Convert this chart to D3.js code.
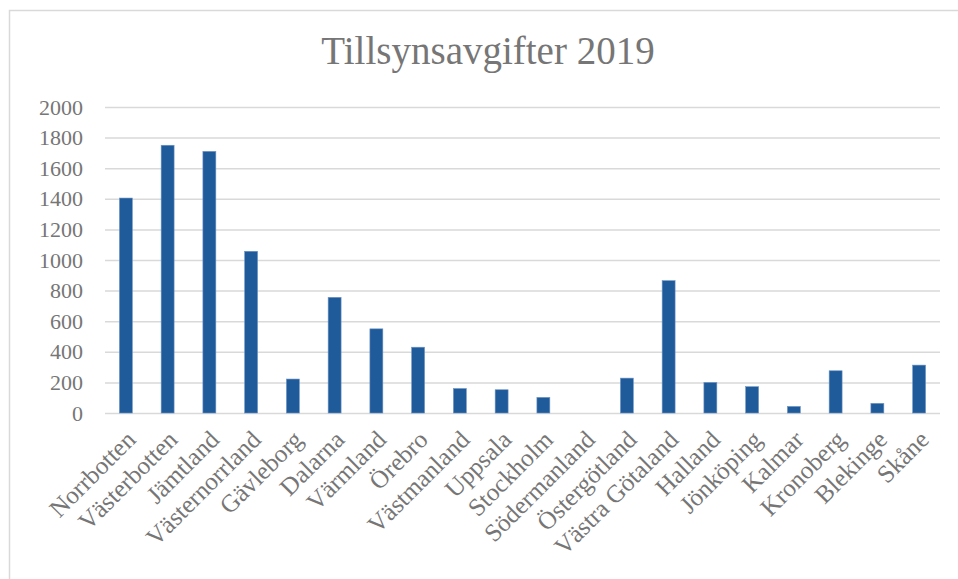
<!DOCTYPE html>
<html>
<head>
<meta charset="utf-8">
<script src="https://cdn.jsdelivr.net/npm/d3@7"></script>
<style>
  body { margin: 0; background: #fff; }
  text { font-family: "Liberation Serif", serif; fill: #767676; }
</style>
</head>
<body>
<svg id="chart" width="958" height="579"></svg>
<script>
var lan = ['Norrbotten', 'Västerbotten', 'Jämtland', 'Västernorrland', 'Gävleborg', 'Dalarna',
           'Värmland', 'Örebro', 'Västmanland', 'Uppsala', 'Stockholm', 'Södermanland',
           'Östergötland', 'Västra Götaland', 'Halland', 'Jönköping', 'Kalmar', 'Kronoberg',
           'Blekinge', 'Skåne'];
var avgifter = [1405, 1750, 1710, 1057, 222, 756, 550, 430, 160, 152, 102, 0,
                228, 865, 200, 172, 43, 276, 63, 313];
var yTicks = [0, 200, 400, 600, 800, 1000, 1200, 1400, 1600, 1800, 2000];
var title = 'Tillsynsavgifter 2019';

var svg = d3.select('#chart');

var plot = {left: 105, right: 940, top: 107, bottom: 413};

//-----------------------------------------------------------------------------
// chart area frame (only top and left edges show)
svg.append('rect')
    .attr('x', 9.5)
    .attr('y', 10.5)
    .attr('width', 1200)
    .attr('height', 1200)
    .style('fill', 'none')
    .style('stroke', '#d9d9d9')
    .style('stroke-width', 1.5);

svg.append('text')
    .attr('x', 488)
    .attr('y', 64)
    .attr('text-anchor', 'middle')
    .style('font-size', '39px')
    .text(title);

var x = d3.scaleBand()
    .domain(lan)
    .range([plot.left, plot.right])
    .paddingInner(0.69)
    .paddingOuter(0.345);

var y = d3.scaleLinear()
    .domain([0, 2000])
    .range([plot.bottom, plot.top]);

//-----------------------------------------------------------------------------
// y axis: grid + labels
var yAxis = svg.append('g')
    .attr('transform', 'translate(' + plot.left + ',0)')
    .call(d3.axisLeft(y).tickValues(yTicks).tickSize(-(plot.right - plot.left)).tickPadding(22).tickFormat(d3.format('d')));

yAxis.select('.domain').remove();
yAxis.selectAll('.tick line')
    .style('stroke', '#d9d9d9')
    .style('stroke-width', 1.5);
yAxis.selectAll('.tick text')
    .style('font-family', '"Liberation Serif", serif')
    .style('font-size', '22px')
    .style('fill', '#767676');

//-----------------------------------------------------------------------------
// bars
svg.selectAll('.bar')
    .data(avgifter)
    .enter().append('rect')
    .attr('class', 'bar')
    .attr('x', function(d, i) { return x(lan[i]); })
    .attr('width', x.bandwidth())
    .attr('y', function(d) { return y(d); })
    .attr('height', function(d) { return y(0) - y(d); })
    .style('fill', '#1f5a9a')
    .style('stroke', '#6f95c4')
    .style('stroke-width', 0.6);

//-----------------------------------------------------------------------------
// x axis labels, rotated
var xAxis = svg.append('g')
    .attr('transform', 'translate(0,' + plot.bottom + ')')
    .call(d3.axisBottom(x).tickSize(0).tickPadding(0));

xAxis.select('.domain').remove();
xAxis.selectAll('.tick text')
    .style('font-family', '"Liberation Serif", serif')
    .style('font-size', '25px')
    .style('fill', '#767676')
    .attr('text-anchor', 'end')
    .attr('dy', '0.35em')
    .attr('transform', 'translate(5,22) rotate(-45)');
</script>
</body>
</html>
